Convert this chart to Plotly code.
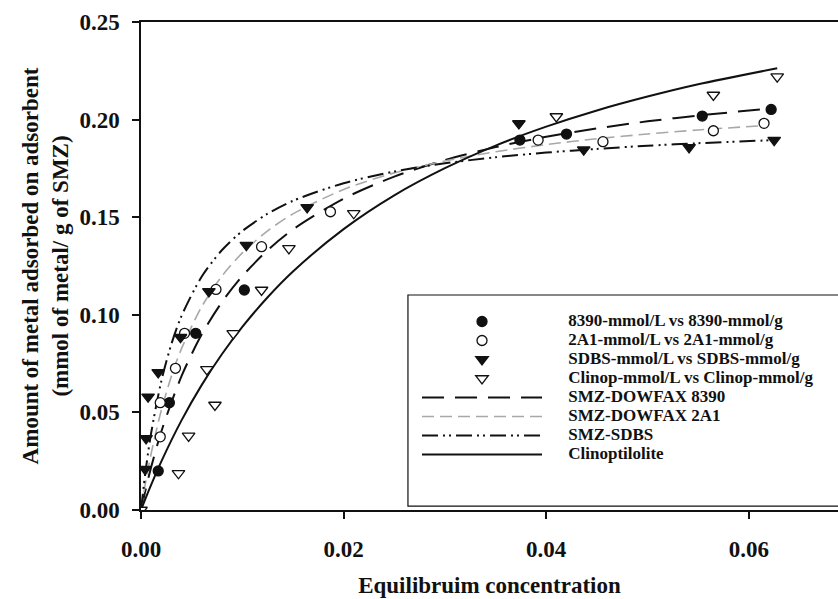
import plotly.graph_objects as go

# Measured adsorption points: equilibrium concentration (mmol/L) vs amount adsorbed (mmol/g)
c_8390 = [0.0017, 0.0028, 0.0054, 0.0102, 0.0374, 0.0420, 0.0554, 0.0622]
q_8390 = [0.0200, 0.0550, 0.0905, 0.1127, 0.1895, 0.1926, 0.2018, 0.2052]

c_2a1 = [0.0019, 0.0019, 0.0034, 0.0043, 0.0074, 0.0119, 0.0187, 0.0392, 0.0456, 0.0565, 0.0615]
q_2a1 = [0.0375, 0.0550, 0.0726, 0.0905, 0.1130, 0.1349, 0.1528, 0.1895, 0.1887, 0.1943, 0.1981]

c_sdbs = [0.0004, 0.0005, 0.0007, 0.0017, 0.0039, 0.0067, 0.0104, 0.0164, 0.0373, 0.0437, 0.0541, 0.0625]
q_sdbs = [0.0209, 0.0367, 0.0580, 0.0705, 0.0885, 0.1120, 0.1357, 0.1550, 0.1980, 0.1846, 0.1858, 0.1895]

c_clin = [0.0, 0.0037, 0.0047, 0.0073, 0.0065, 0.0091, 0.0119, 0.0146, 0.0210, 0.0410, 0.0565, 0.0628]
q_clin = [0.0, 0.0188, 0.0380, 0.0538, 0.0720, 0.0905, 0.1127, 0.1340, 0.1520, 0.2016, 0.2126, 0.2220]

# Fitted isotherm curves
fit_c_8390 = [0, 0.0005, 0.001, 0.002, 0.004, 0.006, 0.008, 0.010, 0.0125, 0.015, 0.02,
              0.025, 0.03, 0.035, 0.04, 0.045, 0.05, 0.055, 0.0622]
fit_q_8390 = [0, 0.0115, 0.0219, 0.0401, 0.0686, 0.0900, 0.1066, 0.1198, 0.1331, 0.1437, 0.1595,
              0.1708, 0.1793, 0.1859, 0.1912, 0.1955, 0.1991, 0.2021, 0.2057]

fit_c_2a1 = [0, 0.0005, 0.001, 0.002, 0.003, 0.004, 0.006, 0.008, 0.010, 0.0125, 0.015, 0.02,
             0.025, 0.03, 0.035, 0.04, 0.045, 0.05, 0.055, 0.0615]
fit_q_2a1 = [0, 0.0155, 0.0289, 0.0510, 0.0685, 0.0827, 0.1042, 0.1199, 0.1317, 0.1430, 0.1517, 0.1642,
             0.1727, 0.1788, 0.1835, 0.1872, 0.1902, 0.1926, 0.1947, 0.1969]

fit_c_sdbs = [0, 0.0005, 0.001, 0.002, 0.003, 0.004, 0.006, 0.008, 0.010, 0.0125, 0.015, 0.02,
              0.025, 0.03, 0.035, 0.04, 0.045, 0.05, 0.055, 0.0625]
fit_q_sdbs = [0, 0.0218, 0.0394, 0.0659, 0.0850, 0.0994, 0.1196, 0.1332, 0.1429, 0.1518, 0.1584, 0.1674,
              0.1734, 0.1776, 0.1807, 0.1831, 0.1850, 0.1866, 0.1879, 0.1895]

fit_c_clin = [0, 0.0005, 0.001, 0.002, 0.004, 0.006, 0.008, 0.010, 0.0125, 0.015, 0.02,
              0.025, 0.03, 0.035, 0.04, 0.045, 0.05, 0.055, 0.0628]
fit_q_clin = [0, 0.0066, 0.0129, 0.0248, 0.0459, 0.0641, 0.0799, 0.0938, 0.1090, 0.1222, 0.1439,
              0.1612, 0.1751, 0.1867, 0.1964, 0.2047, 0.2118, 0.2181, 0.2263]

x_ticks = [0.0, 0.02, 0.04, 0.06]
x_tick_text = ["0.00", "0.02", "0.04", "0.06"]
y_ticks = [0.0, 0.05, 0.10, 0.15, 0.20, 0.25]
y_tick_text = ["0.00", "0.05", "0.10", "0.15", "0.20", "0.25"]

SERIF = "Liberation Serif"
BLACK = "#111111"
GREY = "#a8a8a8"
PAD = "\u00a0" * 5


def legend_label(text):
    # larger glyphs than the legend's base size keep the rows compact
    return f'<span style="font-size:17px">{PAD}{text}</span>'


fig = go.Figure()

# curves first so the markers sit on top
curves = [
    ("SMZ-DOWFAX 8390", fit_c_8390, fit_q_8390, BLACK, 2.0, "22px,11px", 5),
    ("SMZ-DOWFAX 2A1", fit_c_2a1, fit_q_2a1, GREY, 1.6, "12px,6px", 6),
    ("SMZ-SDBS", fit_c_sdbs, fit_q_sdbs, BLACK, 2.0, "16px,5px,2px,4px,2px,5px", 7),
    ("Clinoptilolite", fit_c_clin, fit_q_clin, BLACK, 2.0, "solid", 8),
]
for name, cx, qy, col, w, dash, rank in curves:
    fig.add_trace(go.Scatter(
        x=cx, y=qy, mode="lines", name=legend_label(name), legendrank=rank,
        line=dict(color=col, width=w, dash=dash, shape="spline", smoothing=0.8),
    ))

points = [
    ("8390-mmol/L vs 8390-mmol/g", c_8390, q_8390, "circle", BLACK, 10, 1),
    ("2A1-mmol/L vs 2A1-mmol/g", c_2a1, q_2a1, "circle", "white", 10, 2),
    ("SDBS-mmol/L vs SDBS-mmol/g", c_sdbs, q_sdbs, "triangle-down", BLACK, 11, 3),
    ("Clinop-mmol/L vs Clinop-mmol/g", c_clin, q_clin, "triangle-down", "white", 11, 4),
]
for name, cx, qy, sym, fill, size, rank in points:
    fig.add_trace(go.Scatter(
        x=cx, y=qy, mode="markers", name=legend_label(name), legendrank=rank,
        marker=dict(symbol=sym, size=size, color=fill, line=dict(color=BLACK, width=1.3)),
    ))

# legend frame
fig.add_shape(type="rect", xref="paper", yref="paper",
              x0=0.383, x1=1.05, y0=0.008, y1=0.4406,
              line=dict(color=BLACK, width=1.2), fillcolor="white", layer="below")

fig.update_layout(
    width=838, height=599,
    margin=dict(l=141, r=0, t=22, b=89),
    paper_bgcolor="white", plot_bgcolor="white",
    font=dict(family=SERIF, color=BLACK),
    showlegend=True,
    legend=dict(
        x=0.396, y=0.416, xanchor="left", yanchor="top",
        bgcolor="rgba(0,0,0,0)", borderwidth=0,
        font=dict(family=SERIF, size=12, weight="bold", color=BLACK),
        itemwidth=120, tracegroupgap=0,
    ),
)

fig.update_xaxes(
    range=[0, 0.0688], tickvals=x_ticks, ticktext=x_tick_text,
    showline=True, linecolor=BLACK, linewidth=1.5, mirror=True,
    ticks="outside", ticklen=7, tickcolor=BLACK, tickwidth=1.5,
    ticklabelstandoff=11,
    tickfont=dict(family=SERIF, size=23, weight="bold"),
    showgrid=False, zeroline=False,
    title=dict(text="Equilibruim concentration", standoff=16,
               font=dict(family=SERIF, size=23, weight="bold")),
)
fig.update_yaxes(
    range=[0, 0.25], tickvals=y_ticks, ticktext=y_tick_text,
    showline=True, linecolor=BLACK, linewidth=1.5, mirror=False,
    ticks="outside", ticklen=7, tickcolor=BLACK, tickwidth=1.5,
    ticklabelstandoff=8,
    tickfont=dict(family=SERIF, size=23, weight="bold"),
    showgrid=False, zeroline=False,
    title=dict(text="Amount of metal adsorbed on adsorbent<br>(mmol of metal/ g of SMZ)",
               standoff=4, font=dict(family=SERIF, size=23, weight="bold")),
)

fig.write_html("out.html")
